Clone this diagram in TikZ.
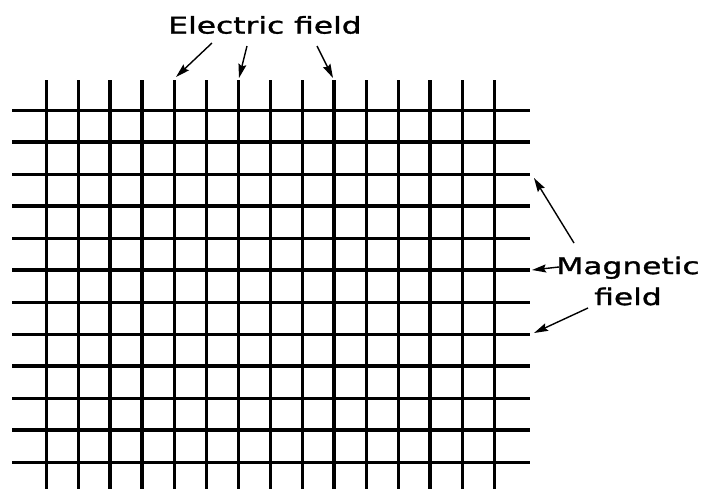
\documentclass[tikz,border=0pt]{standalone}
\usepackage{fontspec}
\setmainfont{DejaVu Sans}[FakeStretch=1.36, FakeBold=1.3]
\usetikzlibrary{arrows.meta}

\tikzset{
  gridline/.style={line width=3pt},
  heavyline/.style={line width=4.2pt},
  pointer/.style={line width=1.4pt, -{Stealth[length=14pt,width=8pt,inset=2pt]}},
  fieldlabel/.style={font=\fontsize{23}{28}\selectfont, inner sep=0pt},
}

\begin{document}
\begin{tikzpicture}[x=1pt, y=-1pt]
  \useasboundingbox (0,0) rectangle (715,488);

  % ---- electric field: the vertical lines ----
  \foreach \x in {46,78,...,494}
    \draw[gridline] (\x,80) -- (\x,490);
  \foreach \x in {110,142,334,430}
    \draw[heavyline] (\x,80) -- (\x,490);

  % ---- magnetic field: the horizontal lines ----
  \foreach \y in {110,174,238,302,334,398,462}
    \draw[gridline] (12,\y) -- (530,\y);
  \foreach \y in {142,206,270,366,430}
    \draw[heavyline] (12,\y) -- (530,\y);

  % ---- the labels and where they point ----
  \node[fieldlabel] (efield) at (265,25) {Electric field};
  \coordinate (e1) at (212,43);  \coordinate (et1) at (176,77);
  \coordinate (e2) at (247,46);  \coordinate (et2) at (239,78);
  \coordinate (e3) at (317,46);  \coordinate (et3) at (333,78);
  \draw[pointer] (e1) -- (et1);
  \draw[pointer] (e2) -- (et2);
  \draw[pointer] (e3) -- (et3);

  \node[fieldlabel, align=center] (mfield) at (628,281) {Magnetic\\[3pt]field};
  \coordinate (m1) at (574,243); \coordinate (mt1) at (534,178);
  \coordinate (m2) at (559,267); \coordinate (mt2) at (532,270);
  \coordinate (m3) at (588,308); \coordinate (mt3) at (534,333);
  \draw[pointer] (m1) -- (mt1);
  \draw[pointer] (m2) -- (mt2);
  \draw[pointer] (m3) -- (mt3);
\end{tikzpicture}
\end{document}
